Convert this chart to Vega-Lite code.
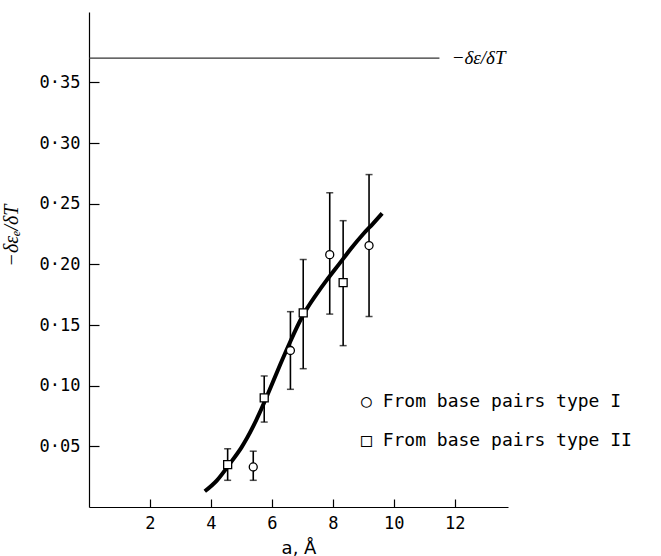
{
  "$schema": "https://vega.github.io/schema/vega-lite/v6.json",
  "width": 419,
  "height": 495,
  "autosize": {"type": "none"},
  "padding": {"left": 89, "top": 12, "right": 153, "bottom": 49},
  "background": "white",
  "config": {
    "view": {"stroke": null},
    "axis": {
      "grid": false,
      "domainColor": "black",
      "domainWidth": 1.2,
      "tickColor": "black",
      "tickWidth": 1.2,
      "labelColor": "black",
      "labelFont": "DejaVu Sans Mono",
      "labelFontSize": 17,
      "titleColor": "black",
      "titleFontWeight": "normal"
    }
  },
  "datasets": {
    "points": [
      {"a": 5.39, "v": 0.033, "lo": 0.022, "hi": 0.046, "series": "From  base  pairs type I"},
      {"a": 6.61, "v": 0.129, "lo": 0.097, "hi": 0.161, "series": "From  base  pairs type I"},
      {"a": 7.9, "v": 0.208, "lo": 0.159, "hi": 0.259, "series": "From  base  pairs type I"},
      {"a": 9.19, "v": 0.2155, "lo": 0.157, "hi": 0.274, "series": "From  base  pairs type I"},
      {"a": 4.55, "v": 0.035, "lo": 0.022, "hi": 0.048, "series": "From  base  pairs type II"},
      {"a": 5.75, "v": 0.090, "lo": 0.070, "hi": 0.108, "series": "From  base  pairs type II"},
      {"a": 7.03, "v": 0.160, "lo": 0.114, "hi": 0.204, "series": "From  base  pairs type II"},
      {"a": 8.34, "v": 0.185, "lo": 0.133, "hi": 0.236, "series": "From  base  pairs type II"}
    ],
    "curve": [
      {"a": 3.8, "v": 0.013},
      {"a": 4.2, "v": 0.022},
      {"a": 4.6, "v": 0.035},
      {"a": 5.0, "v": 0.049},
      {"a": 5.4, "v": 0.067},
      {"a": 5.8, "v": 0.089},
      {"a": 6.2, "v": 0.113},
      {"a": 6.6, "v": 0.136},
      {"a": 7.0, "v": 0.157},
      {"a": 7.4, "v": 0.173},
      {"a": 7.8, "v": 0.187},
      {"a": 8.2, "v": 0.200},
      {"a": 8.6, "v": 0.213},
      {"a": 9.0, "v": 0.225},
      {"a": 9.3, "v": 0.233},
      {"a": 9.62, "v": 0.242}
    ],
    "ref": [
      {"start": 0, "end": 11.5, "labelAt": 11.9, "value": 0.37, "label": "−δε/δT"}
    ]
  },
  "layer": [
    {
      "data": {"name": "ref"},
      "mark": {"type": "rule", "color": "#333", "strokeWidth": 1.2},
      "encoding": {
        "x": {"field": "start", "type": "quantitative", "title": "a, Å", "scale": {"domain": [0, 13.75], "nice": false, "zero": false},
          "axis": {"values": [2, 4, 6, 8, 10, 12], "tickSize": -8, "labelPadding": 16, "titleFont": "DejaVu Sans", "titleFontSize": 18, "titlePadding": 8}},
        "x2": {"field": "end"},
        "y": {"field": "value", "type": "quantitative", "title": "−δεₑ/δT", "scale": {"domain": [0, 0.408], "nice": false, "zero": false},
          "axis": {"values": [0.05, 0.1, 0.15, 0.2, 0.25, 0.3, 0.35], "tickSize": -10, "labelPadding": 19,
            "labelExpr": "replace(format(datum.value, '.2f'), '.', '·')",
            "titleFont": "Liberation Serif", "titleFontStyle": "italic", "titleFontSize": 20,
            "titleX": -68, "titleY": 223}}
      }
    },
    {
      "data": {"name": "ref"},
      "mark": {"type": "text", "align": "left", "baseline": "middle", "font": "Liberation Serif", "fontStyle": "italic", "fontSize": 19, "color": "black"},
      "encoding": {
        "x": {"field": "labelAt", "type": "quantitative", "title": "a, Å"},
        "y": {"field": "value", "type": "quantitative", "title": "−δεₑ/δT"},
        "text": {"field": "label"}
      }
    },
    {
      "data": {"name": "curve"},
      "mark": {"type": "line", "color": "black", "strokeWidth": 4, "interpolate": "natural"},
      "encoding": {
        "x": {"field": "a", "type": "quantitative", "title": "a, Å"},
        "y": {"field": "v", "type": "quantitative", "title": "−δεₑ/δT"}
      }
    },
    {
      "data": {"name": "points"},
      "mark": {"type": "errorbar", "ticks": {"size": 7, "thickness": 1.5, "color": "black"}, "rule": {"strokeWidth": 1.6, "color": "black"}},
      "encoding": {
        "x": {"field": "a", "type": "quantitative", "title": "a, Å"},
        "y": {"field": "lo", "type": "quantitative", "title": "−δεₑ/δT"},
        "y2": {"field": "hi"}
      }
    },
    {
      "data": {"name": "points"},
      "mark": {"type": "point", "filled": false, "fill": "white", "stroke": "black", "strokeWidth": 1.3, "size": 64, "opacity": 1},
      "encoding": {
        "x": {"field": "a", "type": "quantitative", "title": "a, Å"},
        "y": {"field": "v", "type": "quantitative", "title": "−δεₑ/δT"},
        "shape": {"field": "series", "type": "nominal",
          "scale": {"domain": ["From  base  pairs type I", "From  base  pairs type II"], "range": ["circle", "square"]},
          "legend": {"orient": "none", "legendX": 244, "legendY": 381, "title": null, "padding": 0,
            "labelFont": "DejaVu Sans Mono", "labelFontSize": 18, "labelColor": "black", "labelOffset": 10,
            "labelExpr": "(datum.label == 'From  base  pairs type I' ? '○ ' : '□ ') + datum.label",
            "symbolSize": 50, "symbolOpacity": 0,
            "rowPadding": 21, "labelLimit": 400,
            "encode": {"symbols": {"update": {"opacity": {"value": 0}}}}}}
      }
    }
  ]
}
